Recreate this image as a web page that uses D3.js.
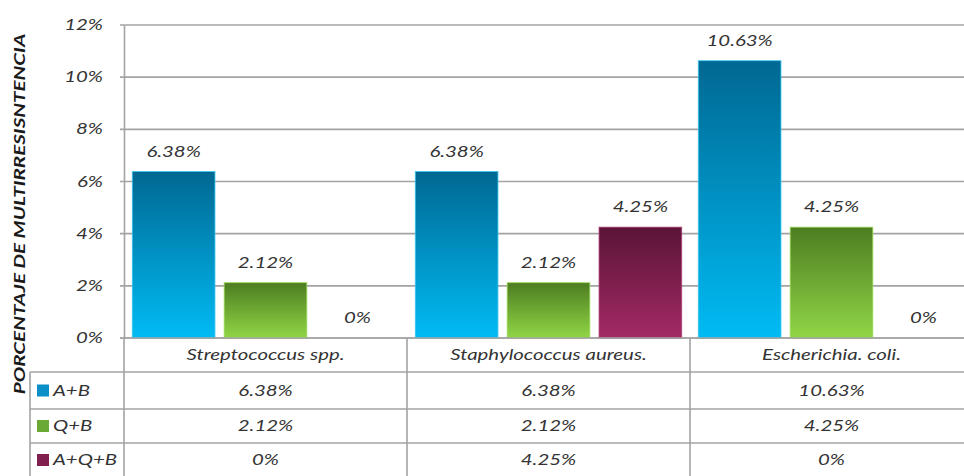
<!DOCTYPE html>
<html>
<head>
<meta charset="utf-8">
<script src="https://cdn.jsdelivr.net/npm/d3@7"></script>
<style>
  html, body { margin: 0; padding: 0; background: #fff; }
  svg { display: block; }
  text { font-family: Lato, "Open Sans", sans-serif; font-style: italic; fill: #333; }
</style>
</head>
<body>
<svg id="chart" width="964" height="476"></svg>
<script>
// Multidrug-resistance percentages by organism and antibiotic combination
const categories = ["Streptococcus spp.", "Staphylococcus aureus.", "Escherichia. coli."];
const seriesNames = ["A+B", "Q+B", "A+Q+B"];
const valuesAB = [6.38, 6.38, 10.63];
const valuesQB = [2.12, 2.12, 4.25];
const valuesAQB = [0, 4.25, 0];
const yTicks = [0, 2, 4, 6, 8, 10, 12];
const yTitle = "PORCENTAJE DE MULTIRRESISNTENCIA";

(function () {
const seriesValues = [valuesAB, valuesQB, valuesAQB];
const gradients = [
  ["#006892", "#00bbf4"],
  ["#4d7d21", "#90d646"],
  ["#5a1436", "#a32a66"]
];
const swatch = ["#0a8fc8", "#6aa934", "#7f1f4f"];
const borders = ["#38c6f2", "#9edc5a", "#b2407a"];

const svg = d3.select("#chart");
const W = 964, H = 476;
const plotLeft = 124, plotRight = 973, plotTop = 25, zeroY = 338;
const rowY = [338, 372, 409, 443, 480];
const legendLeft = 30;
const lineColor = "#a3a3a3";
const SX = 1.36;      // wide text face: horizontal stretch
const FS = 15;

const fmt = v => (v === 0 ? "0" : d3.format(".2f")(v)) + "%";

// text placed at (x, y) and stretched horizontally
function label(parent, x, y, str, anchor) {
  return parent.append("text")
    .attr("transform", `translate(${x},${y}) scale(${SX},1)`)
    .attr("text-anchor", anchor || "middle")
    .attr("font-size", FS)
    .text(str);
}

const x = d3.scaleBand().domain(categories).range([plotLeft, plotRight]).paddingInner(0).paddingOuter(0);
const x1 = d3.scaleBand().domain(seriesNames).range([0, x.bandwidth()]).paddingInner(0.1).paddingOuter(0.09);
const y = d3.scaleLinear().domain([0, 12]).range([zeroY, plotTop]);

// gradients
const defs = svg.append("defs");
gradients.forEach((g, i) => {
  const lg = defs.append("linearGradient").attr("id", "g" + i)
    .attr("x1", 0).attr("y1", 0).attr("x2", 0).attr("y2", 1);
  lg.append("stop").attr("offset", "0%").attr("stop-color", g[0]);
  lg.append("stop").attr("offset", "100%").attr("stop-color", g[1]);
});

// gridlines
svg.append("g").selectAll("line").data(yTicks).join("line")
  .attr("x1", plotLeft - 4).attr("x2", W)
  .attr("y1", d => y(d)).attr("y2", d => y(d))
  .attr("stroke", lineColor).attr("stroke-width", 1.6);

// y axis: domain line from d3.axisLeft, labels stretched
const yAxis = d3.axisLeft(y).tickValues(yTicks).tickFormat("").tickSize(0);
const ya = svg.append("g").attr("transform", `translate(${plotLeft},0)`).call(yAxis);
ya.select(".domain").attr("stroke", lineColor).attr("stroke-width", 1.6);
yTicks.forEach(t => label(svg, 103, y(t) + 5, t + "%", "end"));

// axis title
svg.append("text")
  .attr("transform", `translate(25, ${(30 + 398) / 2}) rotate(-90) scale(1.33,1)`)
  .attr("text-anchor", "middle")
  .attr("font-size", 15.5).attr("font-weight", "bold")
  .style("fill", "#1a1a1a")
  .text(yTitle);

// bars
const groups = svg.append("g").selectAll("g").data(categories).join("g")
  .attr("transform", d => `translate(${x(d)},0)`);
groups.each(function (cat, ci) {
  const g = d3.select(this);
  seriesNames.forEach((s, si) => {
    const v = seriesValues[si][ci];
    if (v > 0) {
      g.append("rect")
        .attr("x", x1(s)).attr("width", x1.bandwidth())
        .attr("y", y(v)).attr("height", y(0) - y(v))
        .attr("fill", `url(#g${si})`)
        .attr("stroke", borders[si]).attr("stroke-width", 0.8);
    }
    label(g, x1(s) + x1.bandwidth() / 2, y(v) - 15, fmt(v));
  });
});

// data table
const tbl = svg.append("g");
const rules = tbl.append("g");
rules.append("line").attr("x1", plotLeft - 4).attr("x2", W).attr("y1", rowY[0]).attr("y2", rowY[0]);
[rowY[1], rowY[2], rowY[3]].forEach(yy => {
  rules.append("line").attr("x1", legendLeft).attr("x2", W).attr("y1", yy).attr("y2", yy);
});
categories.forEach(c => {
  rules.append("line").attr("x1", x(c)).attr("x2", x(c)).attr("y1", rowY[0]).attr("y2", H);
});
rules.append("line").attr("x1", legendLeft).attr("x2", legendLeft).attr("y1", rowY[1]).attr("y2", H);
rules.selectAll("line").attr("stroke", lineColor).attr("stroke-width", 1.6);

// category names
categories.forEach(c => label(tbl, x(c) + x.bandwidth() / 2, (rowY[0] + rowY[1]) / 2 + 5, c));

// rows
seriesNames.forEach((s, si) => {
  const cy = si < 2 ? (rowY[si + 1] + rowY[si + 2]) / 2 : rowY[3] + 17;
  tbl.append("rect").attr("x", 37).attr("y", cy - 6).attr("width", 12).attr("height", 12)
    .attr("fill", swatch[si]);
  label(tbl, 53, cy + 5, s, "start");
  categories.forEach((c, ci) => {
    label(tbl, x(c) + x.bandwidth() / 2, cy + 5, fmt(seriesValues[si][ci]));
  });
});
})();
</script>
</body>
</html>
